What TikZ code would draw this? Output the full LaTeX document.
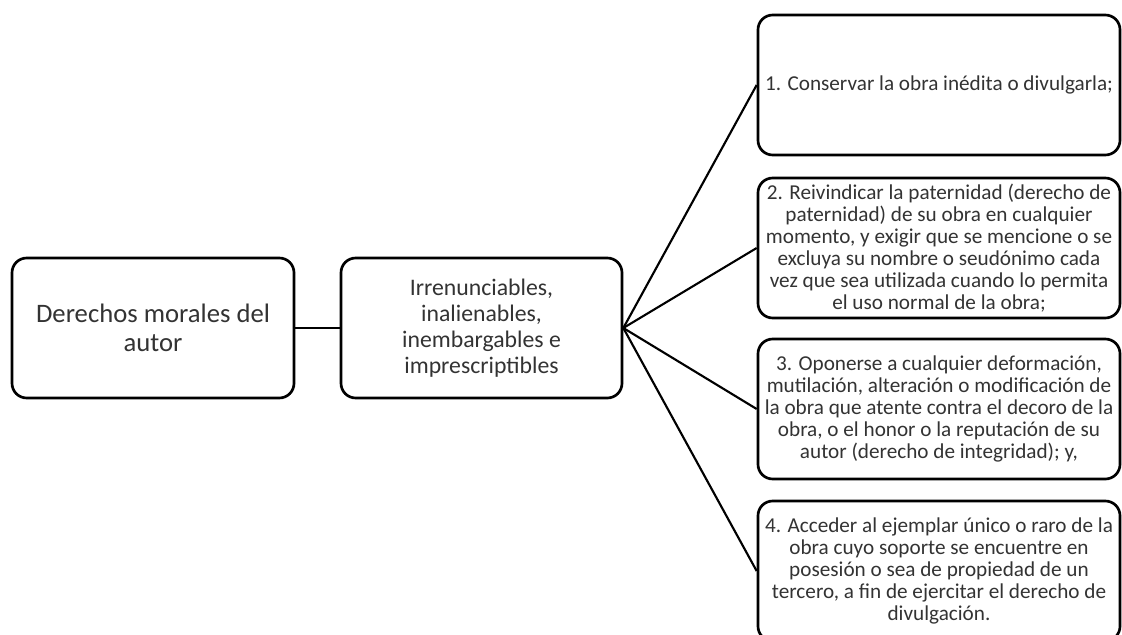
\documentclass[tikz,border=0pt]{standalone}
\usepackage{fontspec}
\setmainfont{Carlito}
\tikzset{
  box/.style={draw=black, line width=2pt, rounded corners=11pt, fill=white,
    align=center, text=black!80, inner sep=1pt},
  leftbox/.style={box, minimum width=211.5pt, minimum height=105pt,
    font=\fontsize{20pt}{21.75pt}\selectfont},
  midbox/.style={box, minimum width=210.75pt, minimum height=105pt,
    font=\fontsize{17.8pt}{19.5pt}\selectfont},
  itembox/.style={box, minimum width=271.5pt, minimum height=105pt,
    font=\fontsize{15.9pt}{16.5pt}\selectfont},
  link/.style={draw=black, line width=1.6pt}
}
\begin{document}
\begin{tikzpicture}[x=0.75pt, y=-0.75pt]
\clip (0,0) rectangle (1122,635);
\fill[white] (0,0) rectangle (1122,635);
\node[leftbox] (a) at (153,328) {Derechos morales del\\autor};
\node[midbox] (b) at (481.5,328) {Irrenunciables,\\inalienables,\\inembargables e\\imprescriptibles};
\node[itembox] (r1) at (939,85) {1. Conservar la obra inédita o divulgarla;};
\node[itembox] (r2) at (939,248) {2. Reivindicar la paternidad (derecho de\\paternidad) de su obra en cualquier\\momento, y exigir que se mencione o se\\excluya su nombre o seudónimo cada\\vez que sea utilizada cuando lo permita\\el uso normal de la obra;};
\node[itembox] (r3) at (939,409) {3. Oponerse a cualquier deformación,\\mutilación, alteración o modificación de\\la obra que atente contra el decoro de la\\obra, o el honor o la reputación de su\\autor (derecho de integridad); y,};
\node[itembox] (r4) at (939,571) {4. Acceder al ejemplar único o raro de la\\obra cuyo soporte se encuentre en\\posesión o sea de propiedad de un\\tercero, a fin de ejercitar el derecho de\\divulgación.};
\draw[link] (a.east) -- (b.west);
\draw[link] (b.east) -- (r1.west);
\draw[link] (b.east) -- (r2.west);
\draw[link] (b.east) -- (r3.west);
\draw[link] (b.east) -- (r4.west);
\end{tikzpicture}
\end{document}
